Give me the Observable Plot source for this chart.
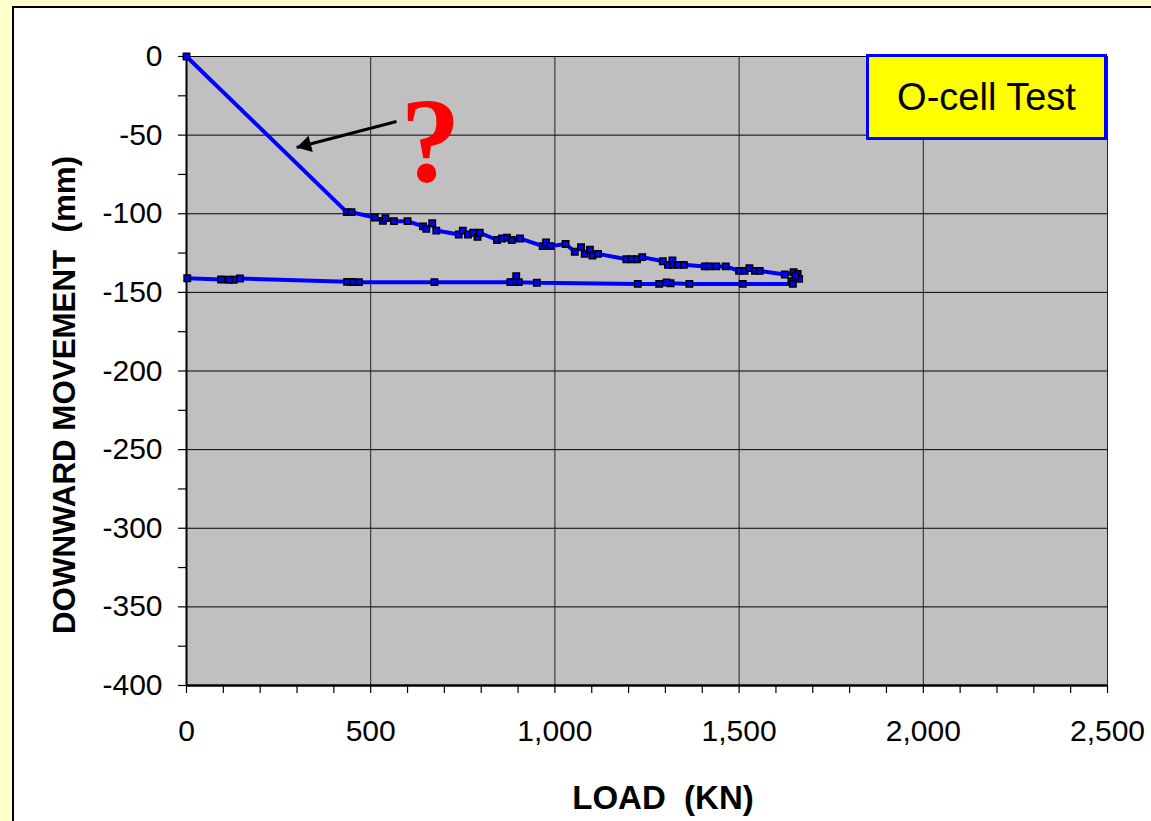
<!DOCTYPE html>
<html>
<head>
<meta charset="utf-8">
<script src="https://cdn.jsdelivr.net/npm/d3@7"></script>
<script src="https://cdn.jsdelivr.net/npm/@observablehq/plot@0.6"></script>
<style>
  html, body { margin: 0; padding: 0; background: #ffffcc; overflow: hidden; width: 1151px; height: 821px; }
  #panel { position: absolute; left: 12px; top: 6px; width: 1300px; height: 1000px; background: #ffffff; border: 2px solid #000; }
  #chart { position: absolute; left: 0; top: 0; }
  .title { position: absolute; font-family: "Liberation Sans", Arial, sans-serif; font-weight: bold; white-space: pre; line-height: 1; color: #000; }
  #legend { position: absolute; left: 866px; top: 54px; width: 241px; height: 86px; box-sizing: border-box; background: #ffff00; border: 3px solid #0000ff;
            font-family: "Liberation Sans", Arial, sans-serif; font-size: 38px; display: flex; align-items: center; justify-content: center; color: #000; }
</style>
</head>
<body>
<div id="panel"></div>
<div id="chart"></div>
<div class="title" id="xtitle" style="left:663px; top:797px; font-size:33px; transform: translate(-50%,-50%);">LOAD  (KN)</div>
<div class="title" id="ytitle" style="left:65px; top:395px; font-size:31.3px; transform: translate(-50%,-50%) rotate(-90deg);">DOWNWARD MOVEMENT  (mm)</div>
<div id="legend">O-cell Test</div>
<script>
// Loading branch (load in kN, downward movement in mm)
const loadUp = [0, 435, 448, 511, 533, 540, 563, 600, 642, 651, 667, 678, 739, 750, 764, 778, 790, 796, 843, 856, 870, 883, 905, 967, 976, 988, 1029, 1054, 1071, 1081, 1095, 1102, 1117, 1194, 1208, 1223, 1237, 1293, 1307, 1319, 1321, 1334, 1350, 1407, 1418, 1438, 1464, 1500, 1515, 1528, 1543, 1556, 1624, 1648, 1659, 1663, 1653, 1642];
const moveUp = [0, -99, -99, -102.4, -104.5, -102.8, -104.7, -104.7, -108, -109.6, -106, -110.7, -113.2, -110.7, -113.2, -112.1, -114.7, -112.1, -116.7, -115.7, -115.3, -116.7, -115.7, -120.6, -118.3, -120.6, -119.2, -124.2, -121.2, -125.5, -122.9, -126.6, -125.5, -128.9, -128.9, -128.9, -127.6, -130.2, -132.5, -129.7, -132.5, -132.5, -132.5, -133.5, -133.5, -133.5, -133.5, -136.3, -136.3, -134.6, -136.3, -136.3, -138.6, -137.2, -138.2, -141.4, -139.9, -142.9];
// Unloading branch
const loadDown = [1646, 1510, 1365, 1314, 1303, 1283, 1225, 951, 902, 895, 889, 879, 673, 468, 450, 436, 145, 128, 115, 94, 2];
const moveDown = [-144.6, -144.6, -144.6, -144.2, -143.7, -144.6, -144.6, -143.9, -143.5, -139.7, -143.5, -143.5, -143.5, -143.5, -143.4, -143.3, -141.2, -142, -142, -141.8, -141];

// Annotation (data coordinates)
const arrowFrom = [570, -41.3];
const arrowTo = [299, -57.9];
const markText = ["?"];
const markLoad = [662];
const markMove = [-79];

const xTicks = d3.range(0, 2501, 500);
const xMinor = d3.range(0, 2501, 100);
const yTicks = d3.range(-400, 1, 50);
const yMinor = d3.range(-400, 1, 25);

const points = [
  ...loadUp.map((x, i) => ({x, y: moveUp[i]})),
  ...loadDown.map((x, i) => ({x, y: moveDown[i]}))
];
const arrowRows = [{x1: arrowFrom[0], y1: arrowFrom[1], x2: arrowTo[0], y2: arrowTo[1]}];

const baseOptions = {
  width: 1151,
  height: 821,
  marginLeft: 186,
  marginRight: 44,
  marginTop: 56,
  marginBottom: 136,
  style: { background: "transparent", fontFamily: "'Liberation Sans', Arial, sans-serif", fontSize: "30px", color: "#000", overflow: "visible" },
  x: { domain: [0, 2500] },
  y: { domain: [-400, 0] }
};

// first pass to get the scales, used to orient the arrowhead
const probe = Plot.plot({ ...baseOptions, marks: [Plot.frame()] });
const sx = probe.scale("x"), sy = probe.scale("y");
const px1 = sx.apply(arrowFrom[0]), py1 = sy.apply(arrowFrom[1]);
const px2 = sx.apply(arrowTo[0]), py2 = sy.apply(arrowTo[1]);
const ddx = px2 - px1, ddy = py2 - py1, len = Math.hypot(ddx, ddy);
const ux = ddx / len, uy = ddy / len;
const headR = 6.2;
const headY = Math.sqrt(Math.PI * headR * headR / (3 * Math.sqrt(3))); // centroid-to-base distance
const tipDist = 2 * headY;
const rot = Math.atan2(ux, -uy) * 180 / Math.PI;

const chart = Plot.plot({
  ...baseOptions,
  marks: [
    Plot.frame({ fill: "#c0c0c0", stroke: null }),
    Plot.gridY({ ticks: yTicks, stroke: "#000", strokeOpacity: 1, strokeWidth: 1 }),
    Plot.gridX({ ticks: xTicks, stroke: "#222", strokeOpacity: 1, strokeWidth: 1 }),
    Plot.axisX({ ticks: xMinor, tickSize: 8, tickFormat: () => "", label: null, strokeWidth: 1.2 }),
    Plot.axisX({ ticks: xTicks, tickSize: 0, tickPadding: 34, tickFormat: d3.format(","), label: null }),
    Plot.axisY({ ticks: yMinor, tickSize: 8, tickFormat: () => "", label: null, strokeWidth: 1.2 }),
    Plot.axisY({ ticks: yTicks, tickSize: 0, tickPadding: 24, tickFormat: d => `${d}`, label: null }),
    Plot.ruleX([0], { stroke: "#000", strokeWidth: 2 }),
    Plot.ruleY([-400], { stroke: "#000", strokeWidth: 2.5 }),
    Plot.line(points, { x: "x", y: "y", stroke: "#0000ff", strokeWidth: 4 }),
    Plot.dot(points, { x: "x", y: "y", symbol: "square", r: 3.6, fill: "#0000ff", stroke: "#000", strokeWidth: 1.5 }),
    Plot.link(arrowRows, { x1: "x1", y1: "y1", x2: "x2", y2: "y2", stroke: "#000", strokeWidth: 3.2 }),
    Plot.dot(arrowRows, { x: "x2", y: "y2", symbol: "triangle", r: headR, fill: "#000", stroke: null, rotate: rot, dx: -ux * tipDist, dy: -uy * tipDist }),
    Plot.text(markText, { x: (d, i) => markLoad[i], y: (d, i) => markMove[i], text: d => d, fill: "#ff0000", fontSize: 120, fontFamily: "'Liberation Serif', 'Times New Roman', serif", fontWeight: "bold", lineAnchor: "bottom" })
  ]
});
document.getElementById("chart").appendChild(chart);
</script>
</body>
</html>
